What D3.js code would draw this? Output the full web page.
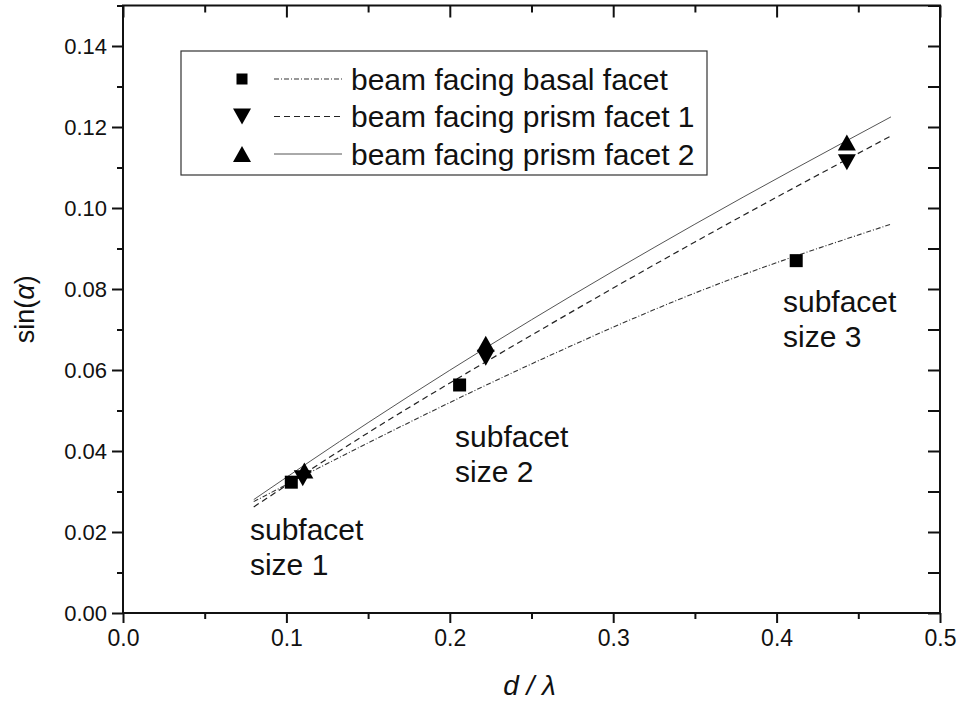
<!DOCTYPE html>
<html>
<head>
<meta charset="utf-8">
<script src="https://cdn.jsdelivr.net/npm/d3@7"></script>
<style>
  body { margin: 0; background: #fff; }
  svg { font-family: Arial, "Liberation Sans", sans-serif; }
</style>
</head>
<body>
<svg></svg>
<script>
// data
const basalX = [0.103, 0.206, 0.412];
const basalY = [0.0323, 0.0563, 0.0870];
const prism1X = [0.110, 0.222, 0.443];
const prism1Y = [0.0333, 0.0630, 0.1113];
const prism2X = [0.111, 0.222, 0.443];
const prism2Y = [0.0352, 0.0665, 0.1162];

// fitted curves, read at a few x positions
const fitX = [0.08, 0.15, 0.25, 0.35, 0.47];
const basalFit = [0.0275, 0.0420, 0.0615, 0.0790, 0.0960];
const prism1Fit = [0.0262, 0.0445, 0.0686, 0.0916, 0.1178];
const prism2Fit = [0.0280, 0.0470, 0.0724, 0.0960, 0.1225];

const xTicks = [0, 0.1, 0.2, 0.3, 0.4, 0.5];
const xMinor = [0.05, 0.15, 0.25, 0.35, 0.45];
const yTicks = [0, 0.02, 0.04, 0.06, 0.08, 0.10, 0.12, 0.14];
const yMinor = [0.01, 0.03, 0.05, 0.07, 0.09, 0.11, 0.13, 0.15];

const legendLabels = ["beam facing basal facet", "beam facing prism facet 1", "beam facing prism facet 2"];
const notes = [
  { x: 0.0777, y: 0.0180, lines: ["subfacet", "size 1"] },
  { x: 0.2032, y: 0.0410, lines: ["subfacet", "size 2"] },
  { x: 0.4039, y: 0.0743, lines: ["subfacet", "size 3"] }
];

const svg = d3.select("svg").attr("width", 960).attr("height", 706);
const x = d3.scaleLinear().domain([0, 0.5]).range([123, 940]);
const y = d3.scaleLinear().domain([0, 0.15]).range([613, 5.5]);

const axisColor = "#111";

// frame
svg.append("rect")
  .attr("x", x(0)).attr("y", y(0.15))
  .attr("width", x(0.5) - x(0)).attr("height", y(0) - y(0.15))
  .attr("fill", "none").attr("stroke", axisColor).attr("stroke-width", 2);

function styleAxis(g) {
  g.select(".domain").remove();
  g.selectAll(".tick line").attr("stroke", axisColor).attr("stroke-width", 2);
  g.selectAll("text").attr("fill", "#111");
}

// bottom
svg.append("g").attr("transform", `translate(0,${y(0)})`)
  .call(d3.axisBottom(x).tickValues(xTicks).tickSize(10).tickPadding(7).tickFormat(d3.format(".1f")))
  .call(styleAxis)
  .call(g => g.selectAll("text").attr("font-size", 23)
    .attr("font-family", "'Liberation Sans Narrow', 'Arial Narrow', sans-serif"));
svg.append("g").attr("transform", `translate(0,${y(0)})`)
  .call(d3.axisBottom(x).tickValues(xMinor).tickSize(6).tickFormat(""))
  .call(styleAxis);

// top (inward)
svg.append("g").attr("transform", `translate(0,${y(0.15)})`)
  .call(d3.axisTop(x).tickValues(xTicks).tickSize(-12).tickFormat(""))
  .call(styleAxis);
svg.append("g").attr("transform", `translate(0,${y(0.15)})`)
  .call(d3.axisTop(x).tickValues(xMinor).tickSize(-7).tickFormat(""))
  .call(styleAxis);

// left
svg.append("g").attr("transform", `translate(${x(0)},0)`)
  .call(d3.axisLeft(y).tickValues(yTicks).tickSize(11).tickPadding(5).tickFormat(d3.format(".2f")))
  .call(styleAxis)
  .call(g => g.selectAll("text").attr("font-size", 22));
svg.append("g").attr("transform", `translate(${x(0)},0)`)
  .call(d3.axisLeft(y).tickValues(yMinor).tickSize(6).tickFormat(""))
  .call(styleAxis);

// right (inward)
svg.append("g").attr("transform", `translate(${x(0.5)},0)`)
  .call(d3.axisRight(y).tickValues(yTicks).tickSize(-12).tickFormat(""))
  .call(styleAxis);
svg.append("g").attr("transform", `translate(${x(0.5)},0)`)
  .call(d3.axisRight(y).tickValues(yMinor).tickSize(-12).tickFormat(""))
  .call(styleAxis);

// axis titles
svg.append("text")
  .attr("x", x(0.25) - 2).attr("y", 695)
  .attr("text-anchor", "middle").attr("font-size", 28).attr("font-style", "italic")
  .attr("fill", "#111")
  .text("d / λ");
svg.append("text")
  .attr("transform", `translate(34,${y(0.075)}) rotate(-90)`)
  .attr("text-anchor", "middle").attr("font-size", 27).attr("fill", "#111")
  .html('sin(<tspan font-style="italic">α</tspan>)');

// fit lines
const fitStyles = [
  { vals: basalFit, dash: "5,2,1,2", color: "#333", width: 1.1 },
  { vals: prism1Fit, dash: "6,4", color: "#222", width: 1.2 },
  { vals: prism2Fit, dash: null, color: "#555", width: 1 }
];
const line = d3.line().x(d => x(d[0])).y(d => y(d[1])).curve(d3.curveMonotoneX);
fitStyles.forEach(s => {
  svg.append("path")
    .datum(fitX.map((v, i) => [v, s.vals[i]]))
    .attr("d", line)
    .attr("fill", "none")
    .attr("stroke", s.color)
    .attr("stroke-width", s.width)
    .attr("stroke-dasharray", s.dash);
});

// markers
const sq = 13;
const triDown = "M-9,-8L9,-8L0,8Z";
const triUp = "M-9,8L9,8L0,-8Z";

svg.append("g").selectAll("rect").data(basalX).enter().append("rect")
  .attr("x", (d) => x(d) - sq / 2)
  .attr("y", (d, i) => y(basalY[i]) - sq / 2)
  .attr("width", sq).attr("height", sq).attr("fill", "#000");
svg.append("g").selectAll("path").data(prism1X).enter().append("path")
  .attr("d", triDown)
  .attr("transform", (d, i) => `translate(${x(d)},${y(prism1Y[i])})`)
  .attr("fill", "#000");
svg.append("g").selectAll("path").data(prism2X).enter().append("path")
  .attr("d", triUp)
  .attr("transform", (d, i) => `translate(${x(d)},${y(prism2Y[i])})`)
  .attr("fill", "#000");

// annotations
notes.forEach(n => {
  const t = svg.append("text")
    .attr("x", x(n.x)).attr("y", y(n.y))
    .attr("font-size", 30).attr("fill", "#111");
  n.lines.forEach((l, i) => {
    t.append("tspan").attr("x", x(n.x)).attr("dy", i === 0 ? 0 : 35).text(l);
  });
});

// legend
const legend = svg.append("g").attr("transform", "translate(181,51)");
legend.append("rect")
  .attr("width", 526).attr("height", 124)
  .attr("fill", "#fff").attr("stroke", "#333").attr("stroke-width", 1.2);
const row = legend.selectAll("g.item").data(legendLabels).enter().append("g")
  .attr("class", "item")
  .attr("transform", (d, i) => `translate(0,${28 + i * 37.5})`);
row.append("text")
  .attr("x", 170).attr("y", 10.5)
  .attr("font-size", 30).attr("fill", "#111")
  .text(d => d);
row.append("line")
  .attr("x1", 93).attr("x2", 161)
  .attr("stroke", (d, i) => fitStyles[i].color)
  .attr("stroke-width", (d, i) => fitStyles[i].width)
  .attr("stroke-dasharray", (d, i) => fitStyles[i].dash);
row.each(function(d, i) {
  const g = d3.select(this);
  if (i === 0) {
    g.append("rect").attr("x", 61 - 5.5).attr("y", -5.5).attr("width", 11).attr("height", 11).attr("fill", "#000");
  } else {
    g.append("path").attr("d", i === 1 ? triDown : triUp)
      .attr("transform", "translate(61,0)").attr("fill", "#000");
  }
});
</script>
</body>
</html>
